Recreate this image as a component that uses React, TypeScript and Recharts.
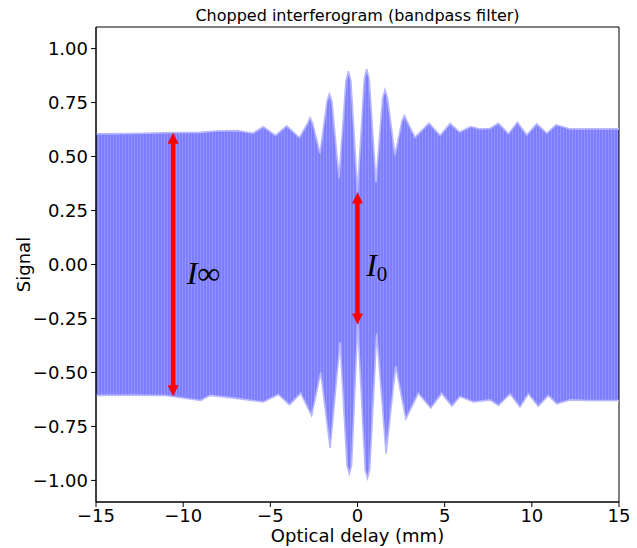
import {
  ComposedChart,
  Area,
  Line,
  XAxis,
  YAxis,
  ReferenceLine,
  ReferenceArea,
  ReferenceDot,
  Label,
} from "recharts";

// upper envelope of the chopped signal
const upperDelay = [
  -15, -13, -11, -9, -8.1, -6.9, -6.0, -5.4, -4.7, -4.06, -3.33, -2.86, -2.72,
  -2.58, -2.15, -1.75, -1.61, -1.47, -1.06, -0.66, -0.52, -0.38, 0.0, 0.39,
  0.53, 0.67, 1.06, 1.44, 1.58, 1.72, 2.15, 2.55, 2.69, 2.83, 3.3, 4.1, 4.74,
  5.31, 5.85, 6.5, 7.0, 7.6, 8.08, 8.66, 9.17, 9.71, 10.28, 10.86, 11.39, 12.2,
  13.5, 15,
];
const upperSignal = [
  0.605, 0.607, 0.61, 0.612, 0.618, 0.62, 0.608, 0.638, 0.598, 0.642, 0.587,
  0.655, 0.68, 0.655, 0.515, 0.755, 0.79, 0.755, 0.4, 0.85, 0.895, 0.85, 0.335,
  0.86, 0.906, 0.86, 0.38, 0.77, 0.81, 0.77, 0.505, 0.665, 0.69, 0.665, 0.589,
  0.655, 0.597, 0.653, 0.613, 0.639, 0.628, 0.63, 0.654, 0.605, 0.659, 0.6,
  0.651, 0.608, 0.647, 0.628, 0.628, 0.628,
];

// lower envelope
const lowerDelay = [
  -15, -13, -11, -9.0, -8.46, -6.93, -5.4, -4.54, -3.9, -3.26, -2.63, -2.11,
  -1.57, -1.0, -0.6, -0.47, -0.34, 0.01, 0.44, 0.57, 0.7, 1.1, 1.64, 2.19,
  2.77, 3.49, 4.2, 4.83, 5.41, 5.88, 6.65, 7.6, 8.08, 8.75, 9.32, 9.8, 10.37,
  10.95, 11.43, 12.2, 13.2, 15,
];
const lowerSignal = [
  -0.606, -0.605, -0.607, -0.63, -0.606, -0.62, -0.637, -0.602, -0.65, -0.596,
  -0.7, -0.5, -0.85, -0.36, -0.93, -0.97, -0.93, -0.275, -0.95, -0.99, -0.95,
  -0.32, -0.876, -0.47, -0.715, -0.596, -0.665, -0.597, -0.655, -0.611, -0.637,
  -0.627, -0.653, -0.599, -0.66, -0.599, -0.657, -0.606, -0.645, -0.627, -0.63,
  -0.63,
];

const delayTicks = [-15, -10, -5, 0, 5, 10, 15];
const signalTicks = [-1, -0.75, -0.5, -0.25, 0, 0.25, 0.5, 0.75, 1];

// arrows: [delay, bottom tip, top tip]
const arrowInf = [-10.58, -0.61, 0.61];
const arrowZero = [0.0, -0.278, 0.333];

const upperData = upperDelay.map((x, i) => ({ x, v: upperSignal[i] }));
const lowerData = lowerDelay.map((x, i) => ({ x, v: lowerSignal[i] }));

const BAND = "url(#chop)";
const EDGE = "#b8b8ff";
const RED = "#ff0000";
const SANS = "DejaVu Sans";
const minus = (s: string) => s.replace("-", "\u2212");

const Arrow = (props: any) => {
  const { x1, y1, y2 } = props;
  const top = Math.min(y1, y2);
  const bottom = Math.max(y1, y2);
  const hl = 11;
  const hw = 5.5;
  return (
    <g>
      <line x1={x1} x2={x1} y1={top + hl - 1} y2={bottom - hl + 1} stroke={RED} strokeWidth={4.5} />
      <polygon points={`${x1},${top} ${x1 - hw},${top + hl} ${x1 + hw},${top + hl}`} fill={RED} />
      <polygon points={`${x1},${bottom} ${x1 - hw},${bottom - hl} ${x1 + hw},${bottom - hl}`} fill={RED} />
    </g>
  );
};

export default function App() {
  return (
    <div style={{ position: "absolute", left: 0, top: 0 }}>
      <ComposedChart width={637} height={548} margin={{ top: 27, right: 18, bottom: 0, left: 0 }}>
        <defs>
          <pattern id="chop" width={3} height={10} patternUnits="userSpaceOnUse">
            <rect width={3} height={10} fill="#7d7dff" />
            <rect x={2} width={1} height={10} fill="#9494ff" />
          </pattern>
        </defs>
        <XAxis
          type="number"
          dataKey="x"
          domain={[-15, 15]}
          ticks={delayTicks}
          allowDataOverflow
          height={46}
          tickSize={5}
          tickMargin={2}
          tickFormatter={(v: number) => minus(String(v))}
          tick={{ fill: "#000", fontSize: 18, fontFamily: SANS }}
          tickLine={{ stroke: "#000" }}
          axisLine={{ stroke: "#000" }}
        >
          <Label
            content={({ viewBox }: any) => (
              <text
                x={viewBox.x + viewBox.width / 2}
                y={viewBox.y + 40}
                textAnchor="middle"
                fontFamily={SANS}
                fontSize={18}
                fill="#000"
              >
                Optical delay (mm)
              </text>
            )}
          />
        </XAxis>
        <YAxis
          type="number"
          domain={[-1.1, 1.1]}
          ticks={signalTicks}
          allowDataOverflow
          width={96}
          tickSize={5}
          tickMargin={3}
          tickFormatter={(v: number) => minus(v.toFixed(2))}
          tick={{ fill: "#000", fontSize: 18, fontFamily: SANS }}
          tickLine={{ stroke: "#000" }}
          axisLine={{ stroke: "#000" }}
        >
          <Label
            content={({ viewBox }: any) => {
              const cx = 23;
              const cy = viewBox.y + viewBox.height / 2;
              return (
                <text
                  x={cx}
                  y={cy}
                  textAnchor="middle"
                  dominantBaseline="central"
                  transform={`rotate(-90 ${cx} ${cy})`}
                  fontFamily={SANS}
                  fontSize={18}
                  fill="#000"
                >
                  Signal
                </text>
              );
            }}
          />
        </YAxis>
        <Line data={upperData} dataKey="v" type="linear" stroke={EDGE} strokeWidth={1.6} dot={false} activeDot={false} isAnimationActive={false} />
        <Line data={lowerData} dataKey="v" type="linear" stroke={EDGE} strokeWidth={1.6} dot={false} activeDot={false} isAnimationActive={false} />
        <Area
          data={upperData}
          dataKey={(d: any) => [-0.05, d.v]}
          type="linear"
          fill={BAND}
          fillOpacity={1}
          stroke="none"
          isAnimationActive={false}
          dot={false}
          activeDot={false}
        />
        <Area
          data={lowerData}
          dataKey={(d: any) => [d.v, 0.05]}
          type="linear"
          fill={BAND}
          fillOpacity={1}
          stroke="none"
          isAnimationActive={false}
          dot={false}
          activeDot={false}
        />
        <ReferenceArea x1={-15} x2={15} y1={-1.1} y2={1.1} fill="none" stroke="#000" strokeWidth={1}>
          <Label
            position="top"
            offset={6}
            value="Chopped interferogram (bandpass filter)"
            fill="#000"
            fontSize={16}
            fontFamily={SANS}
          />
        </ReferenceArea>
        <ReferenceLine
          segment={[
            { x: arrowInf[0], y: arrowInf[1] },
            { x: arrowInf[0], y: arrowInf[2] },
          ]}
          shape={Arrow}
        />
        <ReferenceLine
          segment={[
            { x: arrowZero[0], y: arrowZero[1] },
            { x: arrowZero[0], y: arrowZero[2] },
          ]}
          shape={Arrow}
        />
        <ReferenceDot
          x={-9.8}
          y={-0.088}
          shape={(p: any) => (
            <text x={p.cx} y={p.cy} fontFamily="Liberation Serif" fontSize={32} fill="#000">
              <tspan fontStyle="italic">I</tspan>
              <tspan>∞</tspan>
            </text>
          )}
        />
        <ReferenceDot
          x={0.5}
          y={-0.051}
          shape={(p: any) => (
            <text x={p.cx} y={p.cy} fontFamily="Liberation Serif" fontSize={32} fill="#000">
              <tspan fontStyle="italic">I</tspan>
              <tspan fontSize={21} dy={5}>0</tspan>
            </text>
          )}
        />
      </ComposedChart>
    </div>
  );
}
